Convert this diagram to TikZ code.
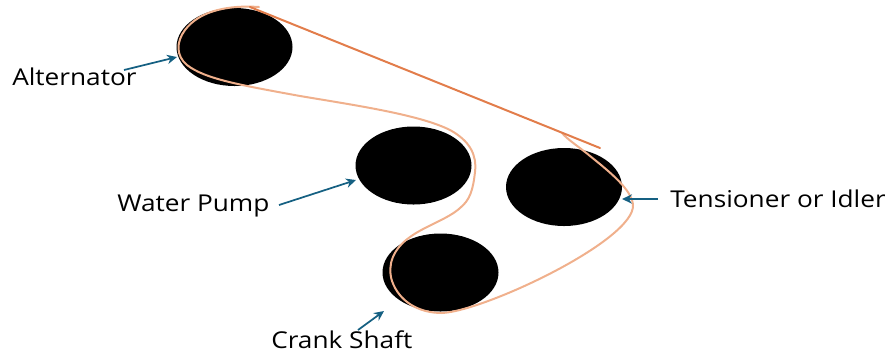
\documentclass[tikz,border=0pt]{standalone}
\usepackage{fontspec}
\setmainfont[FakeStretch=1.13]{Open Sans}
\usetikzlibrary{arrows.meta,shapes.geometric}
\definecolor{belt}{RGB}{240,176,140}
\definecolor{beltdark}{RGB}{226,125,75}
\definecolor{arrowblue}{RGB}{21,96,130}
\tikzset{
  x=0.75pt,y=-0.75pt,
  pulley/.style={ellipse,fill=black,minimum width=87pt,minimum height=58.5pt,inner sep=0pt},
  lab/.style={text=black,font=\fontsize{17.4}{20}\selectfont,inner sep=0pt,anchor=base west},
  pointer/.style={draw=arrowblue,line width=1.3pt,-{Stealth[length=7.5pt,width=7pt]}},
  beltline/.style={draw=belt,line width=1.5pt,line cap=round,line join=round}
}
\begin{document}
\begin{tikzpicture}
\useasboundingbox (0,0) rectangle (885,355);
\node[pulley] (alt) at (234.5,47) {};
\node[pulley] (wp) at (413.5,165.5) {};
\node[pulley] (idl) at (564,187) {};
\node[pulley] (crank) at (440.5,272.5) {};
\path[beltline] (259,7) .. controls (230,5) and (200,10) .. (185,30)
  .. controls (176,42) and (176,56) .. (187,65)
  .. controls (205,79) and (240,85) .. (300,96)
  .. controls (360,106) and (420,115) .. (450,130)
  .. controls (470,141) and (477,155) .. (475,172)
  .. controls (473,190) and (470,200) .. (460,208)
  .. controls (448,219) and (425,226) .. (410,237)
  .. controls (393,249) and (387,265) .. (392,281)
  .. controls (399,301) and (418,313) .. (442,313)
  .. controls (485,311) and (635,240) .. (633,205)
  .. controls (632,190) and (610,172) .. (590,156)
  .. controls (578,146) and (568,140) .. (562,133);
\draw[draw=beltdark,line width=1.5pt,line cap=round] (250,7) -- (600,148);
\node[lab] (talt) at (12,85) {Alternator};
\node[lab] (twp) at (117,211) {Water Pump};
\node[lab] (tidl) at (670,207) {Tensioner or Idler};
\node[lab] (tcr) at (271,348) {Crank Shaft};
\coordinate (aalt) at (177,57);
\coordinate (awp) at (356,180);
\coordinate (aidl) at (622,199);
\coordinate (acr) at (384,311);
\draw[pointer] (124,70) -- (aalt);
\draw[pointer] (279,205) -- (awp);
\draw[pointer] (658,199) -- (aidl);
\draw[pointer] (358,330) -- (acr);
\end{tikzpicture}
\end{document}
